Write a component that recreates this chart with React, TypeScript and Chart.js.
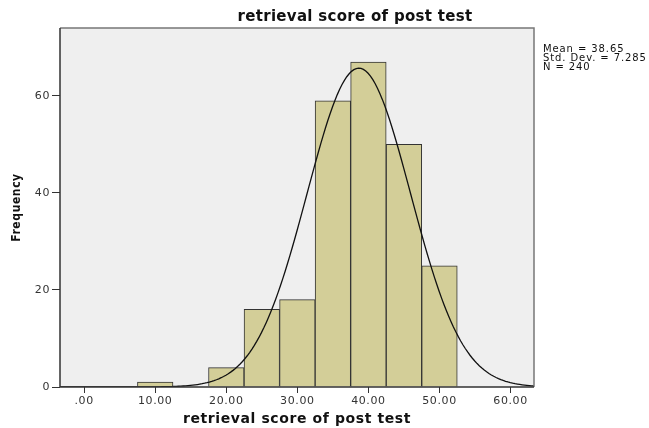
import React, { useEffect, useRef } from "react";
import { Chart, registerables } from "chart.js";

Chart.register(...registerables);

const TITLE = "retrieval score of post test";
const X_TITLE = "retrieval score of post test";
const Y_TITLE = "Frequency";
const BIN_CENTERS = [10, 15, 20, 25, 30, 35, 40, 45, 50];
const BIN_COUNTS = [1, 0, 4, 16, 18, 59, 67, 50, 25];
const X_TICKS = [0, 10, 20, 30, 40, 50, 60];
const Y_TICKS = [0, 20, 40, 60];
const MEAN = 38.65;
const SD = 7.285;
const N = 240;
const BIN_WIDTH = 5;
const STATS_LINES = ["Mean = 38.65", "Std. Dev. = 7.285", "N = 240"];

const X_MIN = -3.4;
const X_MAX = 63.3;
const Y_MAX = 74;

function normalCurve() {
  const pts: { x: number; y: number }[] = [];
  const steps = 200;
  for (let i = 0; i <= steps; i++) {
    const x = X_MIN + ((X_MAX - X_MIN) * i) / steps;
    const z = (x - MEAN) / SD;
    const y = ((N * BIN_WIDTH) / (SD * Math.sqrt(2 * Math.PI))) * Math.exp(-0.5 * z * z);
    pts.push({ x, y });
  }
  return pts;
}

const FONT = "'DejaVu Sans', sans-serif";

export default function App() {
  const ref = useRef<HTMLCanvasElement>(null);

  useEffect(() => {
    document.body.style.margin = "0";
    const canvas = ref.current!;
    const framePlugin = {
      id: "frame",
      beforeDraw(chart: any) {
        (chart.ctx as any).letterSpacing = "0.6px";
      },
      beforeDatasetsDraw(chart: any) {
        const { ctx, chartArea: a } = chart;
        ctx.save();
        ctx.fillStyle = "#efefef";
        ctx.fillRect(a.left, a.top, a.right - a.left, a.bottom - a.top);
        ctx.restore();
      },
      afterDraw(chart: any) {
        const { ctx, chartArea: a } = chart;
        ctx.save();
        ctx.strokeStyle = "#777";
        ctx.lineWidth = 1.5;
        ctx.beginPath();
        ctx.moveTo(a.left, a.top);
        ctx.lineTo(a.right, a.top);
        ctx.lineTo(a.right, a.bottom);
        ctx.stroke();
        ctx.strokeStyle = "#333";
        ctx.beginPath();
        ctx.moveTo(a.left, a.top);
        ctx.lineTo(a.left, a.bottom);
        ctx.lineTo(a.right, a.bottom);
        ctx.stroke();
        // title
        ctx.fillStyle = "#111";
        ctx.letterSpacing = "0.3px";
        ctx.font = `bold 15px ${FONT}`;
        ctx.textAlign = "center";
        ctx.textBaseline = "middle";
        ctx.fillText(TITLE, 355, 17);
        // stats
        ctx.letterSpacing = "0.9px";
        ctx.font = `10px ${FONT}`;
        ctx.textAlign = "left";
        ctx.fillStyle = "#111";
        STATS_LINES.forEach((s, i) => ctx.fillText(s, a.right + 9, 49 + i * 9));
        ctx.restore();
      },
    };

    const chart = new Chart(canvas, {
      type: "bar",
      data: {
        datasets: [
          {
            type: "line",
            data: normalCurve(),
            borderColor: "#111",
            borderWidth: 1.3,
            pointRadius: 0,
            tension: 0,
            fill: false,
            order: 0,
          } as any,
          {
            type: "bar",
            data: BIN_CENTERS.map((x, i) => ({ x, y: BIN_COUNTS[i] })),
            backgroundColor: "#d3ce98",
            borderColor: "#333",
            borderWidth: 1,
            barPercentage: 1,
            categoryPercentage: 1,
            order: 1,
          } as any,
        ],
      },
      options: {
        responsive: false,
        animation: false,
        layout: { padding: { top: 28, right: 115, left: 0, bottom: 0 } },
        plugins: { legend: { display: false }, tooltip: { enabled: false } },
        scales: {
          x: {
            type: "linear",
            offset: false,
            min: X_MIN,
            max: X_MAX,
            afterBuildTicks: (s: any) => {
              s.ticks = X_TICKS.map((v) => ({ value: v }));
            },
            afterFit: (s: any) => {
              s.height = 428 - 387;
            },
            ticks: {
              autoSkip: false,
              maxRotation: 0,
              color: "#333",
              font: { family: FONT, size: 11 },
              padding: 2,
              callback: (v: any) => {
                const t = Number(v).toFixed(2);
                return t.startsWith("0") ? t.slice(1) : t;
              },
            },
            grid: { offset: false, drawOnChartArea: false, color: "#333", tickLength: 6, drawTicks: true },
            border: { display: false },
            title: {
              display: true,
              text: X_TITLE,
              color: "#111",
              font: { family: FONT, size: 14, weight: "bold" },
              padding: { top: 3, bottom: 0 },
            },
          },
          y: {
            min: 0,
            max: Y_MAX,
            afterBuildTicks: (s: any) => {
              s.ticks = Y_TICKS.map((v) => ({ value: v }));
            },
            afterFit: (s: any) => {
              s.width = 60;
            },
            ticks: {
              color: "#333",
              font: { family: FONT, size: 11 },
              padding: 2,
            },
            grid: { drawOnChartArea: false, color: "#333", tickLength: 8 },
            border: { display: false },
            title: {
              display: true,
              text: Y_TITLE,
              color: "#111",
              font: { family: "'DejaVu Sans Condensed', 'DejaVu Sans', sans-serif", size: 12, weight: "bold" },
              padding: { top: 10, bottom: 0 },
            },
          },
        },
      },
      plugins: [framePlugin],
    });
    return () => chart.destroy();
  }, []);

  return (
    <div style={{ width: 649, height: 428, background: "#fff" }}>
      <canvas ref={ref} width={649} height={428} style={{ display: "block" }} />
    </div>
  );
}
